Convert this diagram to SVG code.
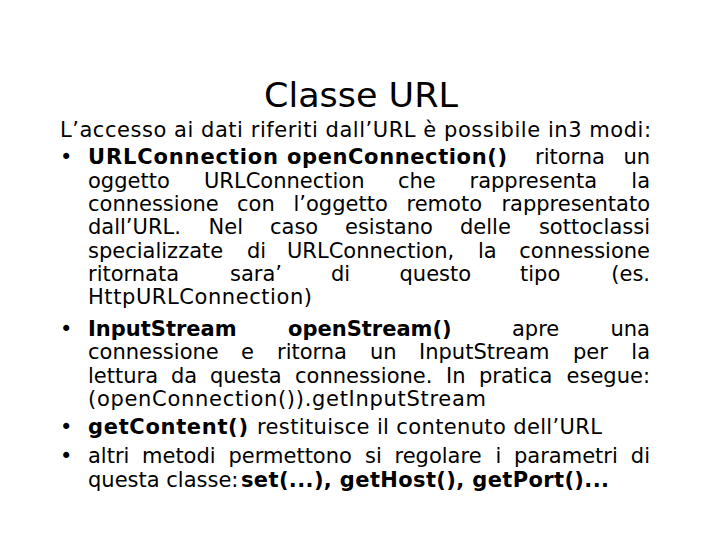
<svg xmlns="http://www.w3.org/2000/svg" width="720" height="540" viewBox="0 0 720 540">
<style>
.t{font-family:"DejaVu Sans","Verdana",sans-serif;font-size:21px;fill:#000}
.b{font-weight:bold}
.e{text-anchor:end}
.title{font-family:"DejaVu Sans","Tahoma",sans-serif;font-size:34px;fill:#000;text-anchor:middle}
</style>
<rect width="720" height="540" fill="#fff"/>
<text class="title" x="361" y="107" textLength="194" lengthAdjust="spacingAndGlyphs">Classe URL</text>
<g id="body">
<text class="t" x="60" y="137" textLength="591">L’accesso ai dati riferiti dall’URL è possibile in3 modi:</text>
<text class="t" x="60" y="164">•</text>
<text class="t" y="164"><tspan class="b" x="88" textLength="190">URLConnection</tspan><tspan class="b" x="287" textLength="220">openConnection()</tspan><tspan x="535">ritorna</tspan><tspan class="e" x="650">un</tspan></text>
<text class="t" y="188"><tspan x="88">oggetto</tspan><tspan x="204">URLConnection</tspan><tspan x="398">che</tspan><tspan x="469.5">rappresenta</tspan><tspan class="e" x="650">la</tspan></text>
<text class="t" y="211"><tspan x="88">connessione</tspan><tspan x="237">con</tspan><tspan x="293.5">l’oggetto</tspan><tspan x="406.5">remoto</tspan><tspan class="e" x="650">rappresentato</tspan></text>
<text class="t" y="234"><tspan x="88">dall’URL.</tspan><tspan x="208.5">Nel</tspan><tspan x="270">caso</tspan><tspan x="345">esistano</tspan><tspan x="460">delle</tspan><tspan class="e" x="650">sottoclassi</tspan></text>
<text class="t" y="258"><tspan x="88">specializzate</tspan><tspan x="247">di</tspan><tspan x="287">URLConnection,</tspan><tspan x="478">la</tspan><tspan class="e" x="650">connessione</tspan></text>
<text class="t" y="281"><tspan x="88">ritornata</tspan><tspan x="230">sara’</tspan><tspan x="331">di</tspan><tspan x="399.5">questo</tspan><tspan x="520">tipo</tspan><tspan class="e" x="650">(es.</tspan></text>
<text class="t" x="88" y="304" textLength="224">HttpURLConnection)</text>
<text class="t" x="60" y="336">•</text>
<text class="t" y="336"><tspan class="b" x="88">InputStream</tspan><tspan class="b" x="288">openStream()</tspan><tspan x="512">apre</tspan><tspan class="e" x="650">una</tspan></text>
<text class="t" y="359"><tspan x="88">connessione</tspan><tspan x="241">e</tspan><tspan x="277">ritorna</tspan><tspan x="370">un</tspan><tspan x="419">InputStream</tspan><tspan x="573">per</tspan><tspan class="e" x="650">la</tspan></text>
<text class="t" y="383"><tspan x="88">lettura</tspan><tspan x="171">da</tspan><tspan x="210">questa</tspan><tspan x="295">connessione.</tspan><tspan x="446">In</tspan><tspan x="479">pratica</tspan><tspan class="e" x="650">esegue:</tspan></text>
<text class="t" x="88" y="406" textLength="398">(openConnection()).getInputStream</text>
<text class="t" x="60" y="434">•</text>
<text class="t" y="434"><tspan class="b" x="88" textLength="160">getContent()</tspan><tspan x="257" textLength="345">restituisce il contenuto dell’URL</tspan></text>
<text class="t" x="60" y="463">•</text>
<text class="t" y="463"><tspan x="88">altri</tspan><tspan x="142">metodi</tspan><tspan x="228.5">permettono</tspan><tspan x="365">si</tspan><tspan x="394.5">regolare</tspan><tspan x="495.5">i</tspan><tspan x="514">parametri</tspan><tspan class="e" x="650">di</tspan></text>
<text class="t" y="487"><tspan x="88">questa classe:</tspan><tspan class="b" x="241" textLength="368">set(...), getHost(), getPort()...</tspan></text>
</g>
</svg>
